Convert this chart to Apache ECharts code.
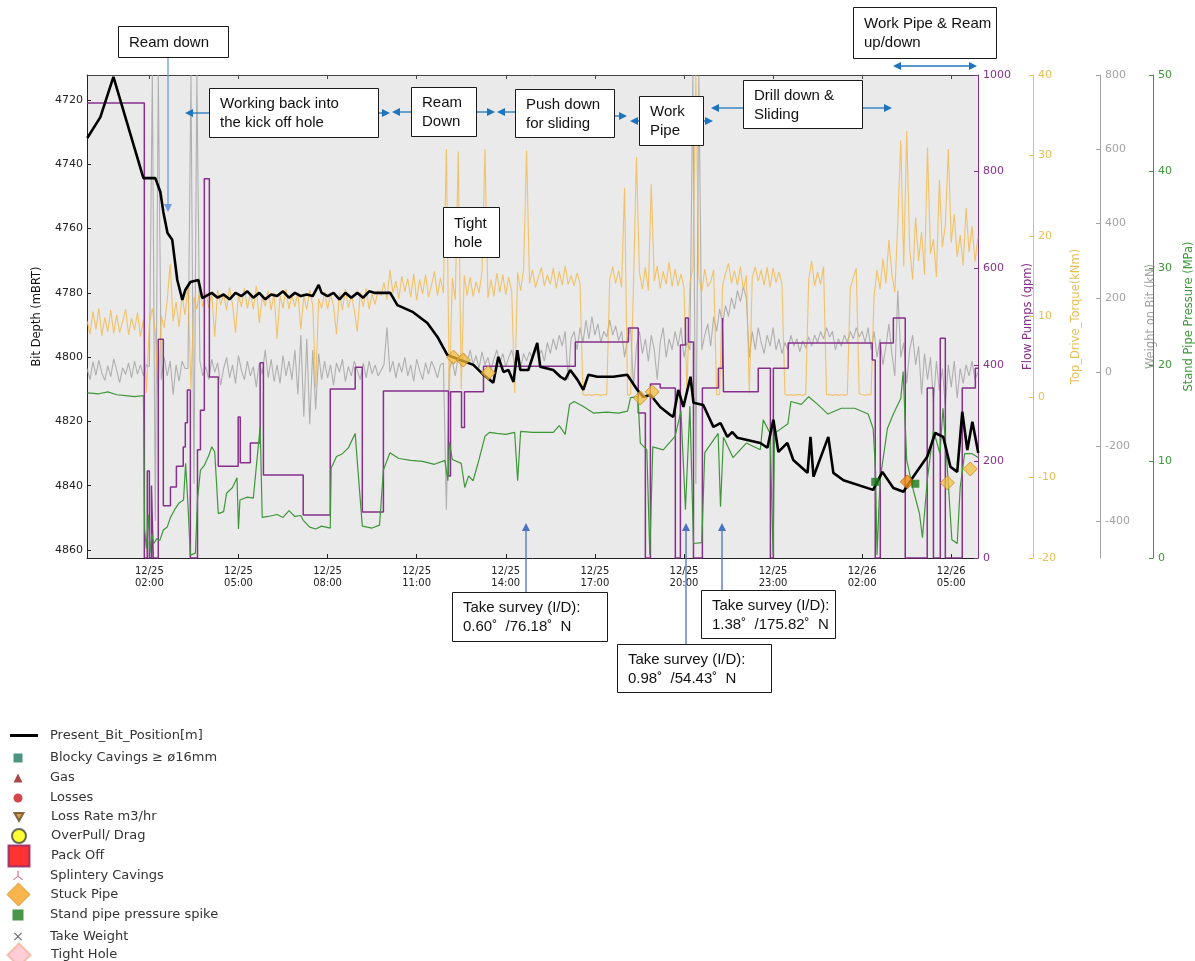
<!DOCTYPE html>
<html><head><meta charset="utf-8">
<script src="https://cdn.jsdelivr.net/npm/echarts@6/dist/echarts.min.js"></script>
<style>html,body{margin:0;padding:0;background:#fff}#c{width:1195px;height:961px}</style>
</head><body><div id="c"></div>
<script>
// ---------------- DATA (hours since 12/25 00:00) ----------------
const timeTickHours = [2,5,8,11,14,17,20,23,26,29];
const depthTicks = [4720,4740,4760,4780,4800,4820,4840,4860];
const wobTicks = [-400,-200,0,200,400,600,800];

const bitPosition = [
 [-0.09,4731.8],[0.35,4725.3],[0.79,4712.8],[1.80,4744.3],[2.20,4744.3],[2.37,4748.6],[2.47,4754.8],[2.61,4761.4],
 [2.77,4763.5],[2.94,4776.0],[3.11,4782.2],[3.21,4779.1],[3.38,4776.6],[3.65,4776.0],[3.78,4781.6],
 [3.9,4781],[4.1,4780],[4.3,4781.5],[4.5,4780.5],[4.7,4782],[4.9,4780],[5.1,4781],[5.3,4779.5],[5.5,4781.5],
 [5.7,4780],[5.9,4782],[6.1,4780.5],[6.3,4781],[6.5,4779.5],[6.7,4781.5],[6.9,4780],[7.1,4781],[7.3,4780.5],
 [7.5,4781],[7.7,4777.5],[7.8,4780],[8.0,4781],[8.2,4780],[8.4,4782],[8.6,4780],[8.8,4781.5],[9.0,4780],
 [9.2,4781.5],[9.4,4779.5],[9.6,4780],[9.78,4780],[10.11,4780],[10.35,4783.8],[10.88,4786],[11.36,4789.4],
 [11.70,4793.7],[12.03,4799.3],[12.47,4800.9],[12.91,4802.4],[13.25,4805.5],[13.58,4808],[13.75,4799.9],
 [13.92,4804.6],[14.09,4804],[14.26,4807.7],[14.39,4797.8],[14.49,4804],[14.76,4804],[15.06,4795.6],[15.16,4803],
 [15.60,4804],[15.84,4806.1],[16.0,4807],[16.17,4804],[16.41,4807],[16.61,4810.2],[16.78,4805.5],[17.08,4806.1],
 [17.62,4806.1],[18.09,4805.5],[18.43,4810.2],[18.63,4812.4],[18.87,4811.7],[19.20,4815.5],[19.54,4818],
 [19.64,4818.6],[19.81,4810.2],[19.98,4815.5],[20.22,4806.1],[20.32,4814.2],[20.65,4814.9],[20.99,4821.7],
 [21.23,4820.5],[21.46,4824.8],[21.63,4823.3],[21.80,4825.1],[22.57,4826.7],[22.81,4828.2],[23.01,4819.5],
 [23.18,4829.5],[23.48,4826.7],[23.68,4832],[24.16,4836],[24.26,4824.8],[24.36,4837.2],[24.86,4824.8],
 [25.03,4836],[25.37,4838.3],[26.37,4841.3],[26.68,4835.7],[27.05,4840.7],[27.39,4841.9],[27.72,4837.2],
 [28.19,4831],[28.46,4823.6],[28.73,4824.8],[28.97,4834.1],[29.20,4835.7],[29.37,4817],[29.54,4828.9],
 [29.71,4820.1],[29.91,4829.8]
];

// flow pumps: value holds from this hour until the next change
const flowPumpChanges = [
 [-0.09,942],[1.83,0],[1.93,180],[2.00,0],[2.07,150],[2.13,0],[2.30,453],[2.47,108],[2.71,147],[2.91,190],
 [3.14,230],[3.21,280],[3.28,348],[3.38,0],[3.62,224],[3.72,306],[3.85,785],[4.02,375],[4.32,190],[4.99,292],
 [5.06,197],[5.40,238],[5.73,404],[5.84,172],[7.18,89],[8.09,350],[8.93,395],[9.17,95],[9.88,346],[12.07,170],
 [12.14,344],[12.51,270],[12.61,344],[13.25,397],[16.34,447],[18.13,476],[18.46,300],[18.70,0],[18.87,360],
 [19.20,352],[19.71,0],[19.88,441],[20.05,497],[20.15,447],[20.32,0],[20.62,352],[21.16,393],[21.30,497],
 [21.33,344],[22.50,393],[22.91,0],[23.01,393],[23.51,445],[26.34,410],[26.44,0],[26.61,445],[27.05,497],
 [27.45,0],[28.19,352],[28.40,0],[28.63,455],[28.80,0],[29.37,352],[29.81,393],[29.91,393]
];

// torque and weight-on-bit are logged every 0.1 h, starting at -0.1 h
const sampleStartHour = -0.1, sampleStepHour = 0.1;
const topDriveTorqueSamples = [
 9.5,7.8,10.6,8.4,11.0,7.6,9.9,8.1,10.8,7.9,
 10.2,8.0,9.4,10.9,7.7,9.8,8.3,10.5,7.5,9.6,
 0.5,9.2,11.0,8.0,0.3,10.1,8.6,12.0,16.5,9.4,
 11.8,8.7,12.6,10.2,14.0,1.0,12.4,10.9,13.4,11.2,
 13.0,11.1,12.9,7.5,13.3,11.4,12.8,10.8,13.6,11.5,
 8.0,12.7,11.2,13.5,11.0,12.9,10.9,13.8,9.2,12.4,
 11.3,13.2,10.8,12.9,7.2,12.6,11.0,13.4,10.9,12.7,
 11.2,13.0,8.4,12.5,10.9,13.3,11.4,1.2,12.2,11.0,
 13.1,10.9,12.8,11.3,7.8,12.9,10.8,13.4,11.1,12.6,
 10.8,8.1,13.0,11.2,13.5,10.9,12.8,11.5,13.2,12.6,
 14.2,12.1,15.8,12.9,14.4,12.2,15.0,13.1,14.7,12.4,
 15.3,12.0,14.6,12.8,15.2,12.4,13.9,15.6,12.6,14.8,
 12.9,30.8,0.3,14.8,12.1,30.5,1.0,15.1,12.6,14.9,
 12.5,14.3,12.9,15.6,30.8,12.3,14.6,12.5,15.4,13.0,
 15.2,12.7,14.9,13.1,0.5,15.5,13.2,15.9,30.6,14.1,
 15.8,13.6,14.9,16.1,13.8,15.2,14.0,16.0,13.5,15.6,
 13.9,16.3,14.0,15.1,13.8,15.4,14.1,0.3,0.2,0.3,
 0.2,0.3,0.3,0.2,0.3,0.3,14.6,16.2,14.1,15.7,
 13.6,26.0,0.2,0.3,13.9,29.8,15.5,13.4,16.1,13.2,
 26.5,14.4,16.3,13.5,15.6,14.0,16.8,13.7,15.9,13.8,
 15.3,13.6,0.4,14.2,16.0,40,14.8,13.1,15.9,13.7,
 14.3,15.8,0.3,0.3,13.8,15.4,16.6,14.1,15.7,13.9,
 16.2,13.3,15.1,0.5,14.9,16.2,14.4,15.8,13.9,16.1,
 13.6,16.0,14.2,15.5,14.0,0.3,0.2,0.3,0.2,0.3,
 0.3,0.2,0.3,14.6,16.9,13.8,15.5,14.0,16.2,0.3,
 0.3,0.2,0.3,0.2,0.3,0.2,0.3,13.5,14.8,16.0,
 0.4,0.3,0.2,0.3,0.3,12.5,15.8,13.4,17.2,14.1,
 19.5,15.3,13.0,21.8,31.9,16.2,33.0,18.4,14.6,22.3,
 16.9,20.5,15.2,31.0,17.8,19.6,14.9,27.0,18.6,21.4,
 30.8,19.2,22.7,17.4,20.1,16.3,23.5,18.0,21.2,16.8,
 19.9
];
const weightOnBitSamples = [
 10,-20,28,-8,32,-2,-22,18,-12,36,
 5,-28,12,-6,25,-15,30,-5,20,-10,
 20,15,800,-400,800,-20,40,-10,30,-60,
 20,-25,30,10,10,800,-300,800,30,-10,
 15,-20,35,0,25,-35,10,40,-15,20,
 -30,45,5,-20,30,-10,15,-40,25,-5,
 60,-15,35,-25,20,-30,45,-10,30,-20,
 60,-60,100,-120,90,-140,60,-100,50,-20,
 30,-15,20,-35,25,0,35,-25,15,-10,
 30,5,-20,25,-15,30,-5,20,-10,5,
 20,120,0,30,-15,25,0,40,-10,20,
 -25,35,5,-20,25,-5,30,10,-15,20,
 25,-370,10,30,-10,45,15,50,25,60,
 20,45,10,55,20,40,5,35,60,25,
 50,15,40,60,25,45,10,50,30,55,
 35,70,40,60,30,80,50,90,60,100,
 70,110,-20,90,110,60,120,80,140,90,
 150,100,130,80,110,95,140,100,125,85,
 110,40,90,120,-40,70,110,50,90,30,
 100,60,-20,80,120,40,90,60,110,70,
 120,40,80,60,800,-300,800,60,100,130,
 70,150,110,170,130,180,150,200,170,220,
 190,230,200,40,110,60,120,80,50,100,
 70,120,60,90,50,80,60,100,70,90,
 55,85,65,95,70,100,80,110,90,120,
 95,110,60,90,70,100,80,110,90,120,
 95,110,80,120,60,110,40,90,20,70,
 130,50,-10,220,40,80,-30,60,100,20,
 70,-60,50,-20,40,-80,30,-50,10,-90,
 20,-40,30,-70,10,-30,20,-10,30,-20,
 0
];

const standPipePressure = [
 [-0.09,17.1],[0.3,17.0],[0.6,17.2],[0.9,16.9],[1.2,16.8],[1.5,16.7],[1.8,16.8],[1.84,3],[1.9,1],[1.97,4.5],
 [2.02,0.5],[2.08,2.5],[2.15,1.5],[2.25,2.0],[2.35,1.8],[2.47,2.9],[2.6,3.2],[2.71,4.2],[2.85,5.0],[3.0,5.7],
 [3.15,6.0],[3.22,9.8],[3.3,5.5],[3.38,0.3],[3.55,0.5],[3.62,6.1],[3.72,9.1],[3.85,9.6],[4.0,10.6],[4.1,11.5],
 [4.2,11.0],[4.32,4.6],[4.5,4.8],[4.6,6.7],[4.8,7.3],[4.95,8.3],[5.0,3.0],[5.05,6.0],[5.3,6.3],[5.5,6.2],
 [5.73,13.6],[5.8,4.2],[6.0,4.3],[6.3,4.5],[6.5,4.2],[6.7,4.9],[6.9,4.3],[7.1,4.4],[7.18,3.9],[7.4,3.2],[7.6,3.0],
 [7.8,3.3],[8.09,3.1],[8.12,9.3],[8.3,10.5],[8.5,10.8],[8.7,11.4],[8.93,12.9],[9.0,10.0],[9.17,3.3],[9.5,3.1],
 [9.75,3.4],[9.88,9.1],[10.1,10.9],[10.4,10.3],[10.8,10.1],[11.2,10.0],[11.6,9.7],[11.95,10.1],[12.05,8.0],
 [12.1,12],[12.2,10.2],[12.5,9.8],[12.62,7.3],[12.75,8.5],[12.9,8.0],[13.1,10.2],[13.3,12.6],[13.45,13.0],
 [13.7,12.9],[14.0,12.8],[14.3,13.0],[14.4,8.0],[14.5,13.1],[14.9,13.0],[15.3,13.0],[15.6,13.0],[15.8,13.7],
 [16.0,12.8],[16.15,15.9],[16.3,16.2],[16.6,15.7],[16.95,15.0],[17.4,15.1],[17.8,15.0],[18.1,15.2],[18.2,16.6],
 [18.45,16.7],[18.53,11.9],[18.75,11.2],[18.85,0.3],[18.95,11.5],[19.3,11.2],[19.7,12.6],[19.9,15.2],[20.05,5.0],
 [20.2,15.7],[20.32,1.5],[20.6,1.6],[20.7,10.9],[21.15,12.9],[21.23,5.3],[21.33,12.5],[21.65,10.4],[22.1,11.9],
 [22.57,11.2],[22.67,14.3],[22.9,12.9],[23.0,0.3],[23.05,12.9],[23.5,13.9],[23.6,16.2],[23.95,15.9],[24.2,16.7],
 [24.5,15.9],[24.85,14.9],[25.3,15.5],[25.75,15.5],[26.2,14.9],[26.37,13.4],[26.45,9.0],[26.5,0.3],[26.6,8.0],
 [26.85,13.4],[27.05,14.9],[27.3,16.5],[27.38,19.3],[27.5,10.1],[27.7,7.3],[27.93,4.6],[28.03,2.1],[28.19,8.0],
 [28.4,13.2],[28.62,10.8],[28.72,15.5],[28.85,10.1],[29.02,1.9],[29.2,1.5],[29.3,7.3],[29.45,10.8],[29.7,10.8],
 [29.91,10.4]
];

const stuckPipeEvents = [[12.24,4800],[12.57,4800.9],[13.41,4804.9],[18.53,4812.7],[18.93,4810.8],[27.52,4838.8],[28.87,4839.1],[29.64,4834.8]];
const sppSpikeEvents = [[26.44,4838.8],[27.79,4839.4]];

const legendNames = ['Present_Bit_Position[m]','Blocky Cavings \u2265 \u00f816mm','Gas','Losses','Loss Rate m3/hr',
 'OverPull/ Drag','Pack Off','Splintery Cavings','Stuck Pipe','Stand pipe pressure spike','Take Weight','Tight Hole'];

// ---------------- BUILD ----------------
const flowSteps = [];
flowPumpChanges.forEach((p, i) => {
  if (i > 0) flowSteps.push([p[0], flowPumpChanges[i-1][1]]);
  flowSteps.push([p[0], p[1]]);
});
const atSampleHours = arr => arr.map((v, i) => [+(sampleStartHour + i * sampleStepHour).toFixed(2), v]);
const topDriveTorque = atSampleHours(topDriveTorqueSamples);
const weightOnBit = atSampleHours(weightOnBitSamples);

const FONT = 'DejaVu Sans';
const chart = echarts.init(document.getElementById('c'), null, {renderer: 'canvas'});
const plain = v => String(v);

function rightAxis(name, color, offset, min, max, extra, nameGap) {
  return Object.assign({
    type: 'value', position: 'right', offset, min, max, name,
    nameLocation: 'middle', nameGap,
    nameTextStyle: {color, fontSize: 11.5, fontFamily: FONT},
    axisLine: {show: true, onZero: false, lineStyle: {color, width: 1}},
    axisTick: {show: true, inside: true, length: 4, lineStyle: {color}},
    axisLabel: {color, fontSize: 11, fontFamily: FONT, margin: 5, formatter: plain},
    splitLine: {show: false}
  }, extra);
}

const PURPLE = '#86308C', GOLD = '#E9BE55', GREY = '#A3A3A3', GREEN = '#3F963A';

const yAxes = [
  {type: 'value', position: 'left', inverse: true, min: 4712.2, max: 4862.5,
   name: 'Bit Depth (mBRT)', nameLocation: 'middle', nameGap: 44,
   nameTextStyle: {color: '#111', fontSize: 11.5, fontFamily: FONT},
   axisLine: {show: true, onZero: false, lineStyle: {color: '#222'}},
   axisTick: {show: true, inside: true, length: 4, customValues: depthTicks, lineStyle: {color: '#222'}},
   axisLabel: {customValues: depthTicks, color: '#222', fontSize: 11, fontFamily: FONT, margin: 4, formatter: plain},
   splitLine: {show: false}},
  rightAxis('Flow Pumps (gpm)', PURPLE, 0, 0, 1000, {interval: 200}, 40),
  rightAxis('Top_Drive_Torque(kNm)', GOLD, 55, -20, 40, {interval: 10}, 37),
  rightAxis('Weight on Bit (kN)', GREY, 122, -500, 800, {}, 45),
  rightAxis('Stand Pipe Pressure (MPa)', GREEN, 175, 0, 50, {interval: 10}, 27)
];
yAxes[3].axisTick.customValues = wobTicks;
yAxes[3].axisLabel.customValues = wobTicks;

const xAxes = [
  {type: 'value', position: 'bottom', min: -0.1, max: 29.9,
   axisLine: {show: true, onZero: false, lineStyle: {color: '#222'}},
   axisTick: {show: true, inside: true, length: 4, customValues: timeTickHours, lineStyle: {color: '#222'}},
   axisLabel: {customValues: timeTickHours, fontSize: 10, lineHeight: 12, color: '#222', fontFamily: FONT, margin: 7,
     formatter: v => (v < 24 ? '12/25' : '12/26') + '\n' + String(v < 24 ? v : v - 24).padStart(2, '0') + ':00'},
   splitLine: {show: false}},
  {type: 'value', position: 'top', min: -0.1, max: 29.9,
   axisLine: {show: true, onZero: false, lineStyle: {color: '#444'}},
   axisTick: {show: true, inside: true, length: 4, customValues: timeTickHours, lineStyle: {color: '#444'}},
   axisLabel: {show: false}, splitLine: {show: false}}
];

const lineBase = {type: 'line', showSymbol: false, symbol: 'none', animation: false, xAxisIndex: 0};
const series = [
  Object.assign({}, lineBase, {name: 'Weight on Bit', yAxisIndex: 3, data: weightOnBit,
    lineStyle: {color: 'rgba(160,160,160,0.8)', width: 1.1}, z: 1}),
  Object.assign({}, lineBase, {name: 'Top_Drive_Torque', yAxisIndex: 2, data: topDriveTorque,
    lineStyle: {color: 'rgba(243,180,60,0.75)', width: 1.1}, z: 2}),
  Object.assign({}, lineBase, {name: 'Flow Pumps', yAxisIndex: 1, data: flowSteps,
    lineStyle: {color: PURPLE, width: 1.5}, z: 3}),
  Object.assign({}, lineBase, {name: 'Stand Pipe Pressure', yAxisIndex: 4, data: standPipePressure,
    lineStyle: {color: GREEN, width: 1.2}, z: 4}),
  Object.assign({}, lineBase, {name: legendNames[0], yAxisIndex: 0, data: bitPosition,
    itemStyle: {color: '#000'}, lineStyle: {color: '#000', width: 2.6}, z: 5})
];

const markerStyles = [
  null,
  {symbol: 'rect', color: '#1F7A62'},
  {symbol: 'triangle', color: '#8E1B1B'},
  {symbol: 'circle', color: '#C8161D'},
  {symbol: 'path://M0,0 L10,0 L5,9 Z', color: '#C8853C', border: '#6B4A1A', bw: 0.8},
  {symbol: 'circle', color: '#FFFF00', border: '#444', bw: 1},
  {symbol: 'rect', color: '#FF0000', border: '#8A2060', bw: 1},
  {symbol: 'path://M4.4,0 H5.6 V5 L9.9,8.4 L9.3,9.2 L5,5.9 L0.7,9.2 L0.1,8.4 L4.4,5 Z', color: '#D4506A'},
  {symbol: 'diamond', color: '#F5A31F', border: '#C98B20', bw: 1},
  {symbol: 'rect', color: '#1B7A1B'},
  {symbol: 'path://M0,1 L1,0 L5,4 L9,0 L10,1 L6,5 L10,9 L9,10 L5,6 L1,10 L0,9 L4,5 Z', color: '#444'},
  {symbol: 'diamond', color: '#FFC0CB', border: '#F2B49A', bw: 1}
];
markerStyles.forEach((m, i) => {
  if (!m) return;
  let data = [];
  if (i === 8) data = stuckPipeEvents.map((p, k) => k === 5
      ? {value: p, itemStyle: {color: '#F08C12', borderColor: '#C86A00'}} : p);
  if (i === 9) data = sppSpikeEvents;
  series.push({type: 'scatter', name: legendNames[i], xAxisIndex: 0, yAxisIndex: 0, data,
    symbol: m.symbol, symbolSize: i === 8 ? 14 : 8, animation: false, z: 10,
    itemStyle: {color: i === 8 ? 'rgba(245,190,60,0.9)' : m.color,
      borderColor: m.border || m.color, borderWidth: i === 8 ? 1 : (m.bw || 0)}});
});

// legend layout: [icon size w, h, center y]
const legendLayout = [[28,14,736],[9,9,756],[9,9,776],[9,9,796],[9,9,815],[14,14,835],[21,21,855],
  [10,10,874],[23,23,894],[11,11,914],[8,8,934],[23,23,954]];
const legends = legendNames.map((n, i) => {
  const [w, h, cy] = legendLayout[i];
  const left = i === 0 ? 10 : 18 - w / 2;
  const pad = 50 - (left + w + 5);
  const item = {name: n};
  if (i === 0) { item.icon = 'path://M0,0 H28 V3 H0 Z'; item.itemStyle = {color: '#000', borderWidth: 0}; }
  if (i === 8) item.itemStyle = {color: '#F5A31F', borderColor: '#C98B20', borderWidth: 1};
  return {data: [item], left, top: cy - h / 2, itemWidth: w, itemHeight: h, padding: 0,
    selectedMode: false, orient: 'vertical', symbolKeepAspect: true,
    textStyle: {fontSize: 13, color: '#333', fontFamily: FONT, padding: [0, 0, 0, pad]}};
});

// ---------------- ANNOTATIONS ----------------
const BLUE = '#1E74BC', SBLUE = '#4A72C2', LBLUE = '#6E9CDA';
const notes = [
  ['Ream down', 118, 26, 110, 31], ['Working back into\nthe kick off hole', 209, 88, 169, 49],
  ['Ream\nDown', 411, 87, 65, 49], ['Push down\nfor sliding', 515, 89, 99, 48],
  ['Work\nPipe', 639, 96, 64, 49], ['Drill down &\nSliding', 743, 80, 119, 48],
  ['Work Pipe & Ream\nup/down', 853, 7, 143, 51], ['Tight\nhole', 443, 207, 56, 50],
  ['Take survey (I/D):\n0.60\u02da  /76.18\u02da  N', 452, 592, 155, 49],
  ['Take survey (I/D):\n0.98\u02da  /54.43\u02da  N', 617, 644, 154, 48],
  ['Take survey (I/D):\n1.38\u02da  /175.82\u02da  N', 701, 590, 134, 48]
];
const arrows = [
  [209,113,185,113,BLUE],[378,113,390,113,BLUE],[411,112,392,112,BLUE],[476,112,495,112,BLUE],
  [515,112,497,112,BLUE],[614,116,627,116,BLUE],[639,121,630,121,BLUE],[703,121,713,121,BLUE],
  [743,108,711,108,BLUE],[862,108,892,108,BLUE],[935,66,893,66,BLUE],[935,66,977,66,BLUE],
  [168,57,168,212,LBLUE],[526,592,526,523,SBLUE],[686,644,686,523,SBLUE],[722,590,722,523,SBLUE]
];
const graphics = [];
arrows.forEach(([x1, y1, x2, y2, c]) => {
  const dx = x2 - x1, dy = y2 - y1, L = Math.hypot(dx, dy), ux = dx / L, uy = dy / L;
  const hl = 8, hw = 4, bx = x2 - ux * hl, by = y2 - uy * hl;
  graphics.push({type: 'line', z: 100, shape: {x1, y1, x2: bx, y2: by}, style: {stroke: c, lineWidth: 1.3}});
  graphics.push({type: 'polygon', z: 100, shape: {points: [[x2, y2], [bx - uy * hw, by + ux * hw], [bx + uy * hw, by - ux * hw]]},
    style: {fill: c}});
});
notes.forEach(([t, x, y, w, h]) => {
  graphics.push({type: 'rect', z: 101, shape: {x: x + 0.5, y: y + 0.5, width: w, height: h},
    style: {fill: '#fff', stroke: '#1a1a1a', lineWidth: 1}});
  graphics.push({type: 'text', z: 102, x: x + 11, y: y + h / 2 + 1,
    style: {text: t, fill: '#111', font: '15px "Liberation Sans", Arial', lineHeight: 19, verticalAlign: 'middle'}});
});

chart.setOption({
  animation: false,
  backgroundColor: '#fff',
  grid: {left: 87, right: 217, top: 75, bottom: 403, show: true, backgroundColor: '#EAEAEA', borderWidth: 0,
         containLabel: false, outerBoundsMode: 'none'},
  xAxis: xAxes,
  yAxis: yAxes,
  legend: legends,
  series,
  graphic: graphics
});
</script></body></html>
